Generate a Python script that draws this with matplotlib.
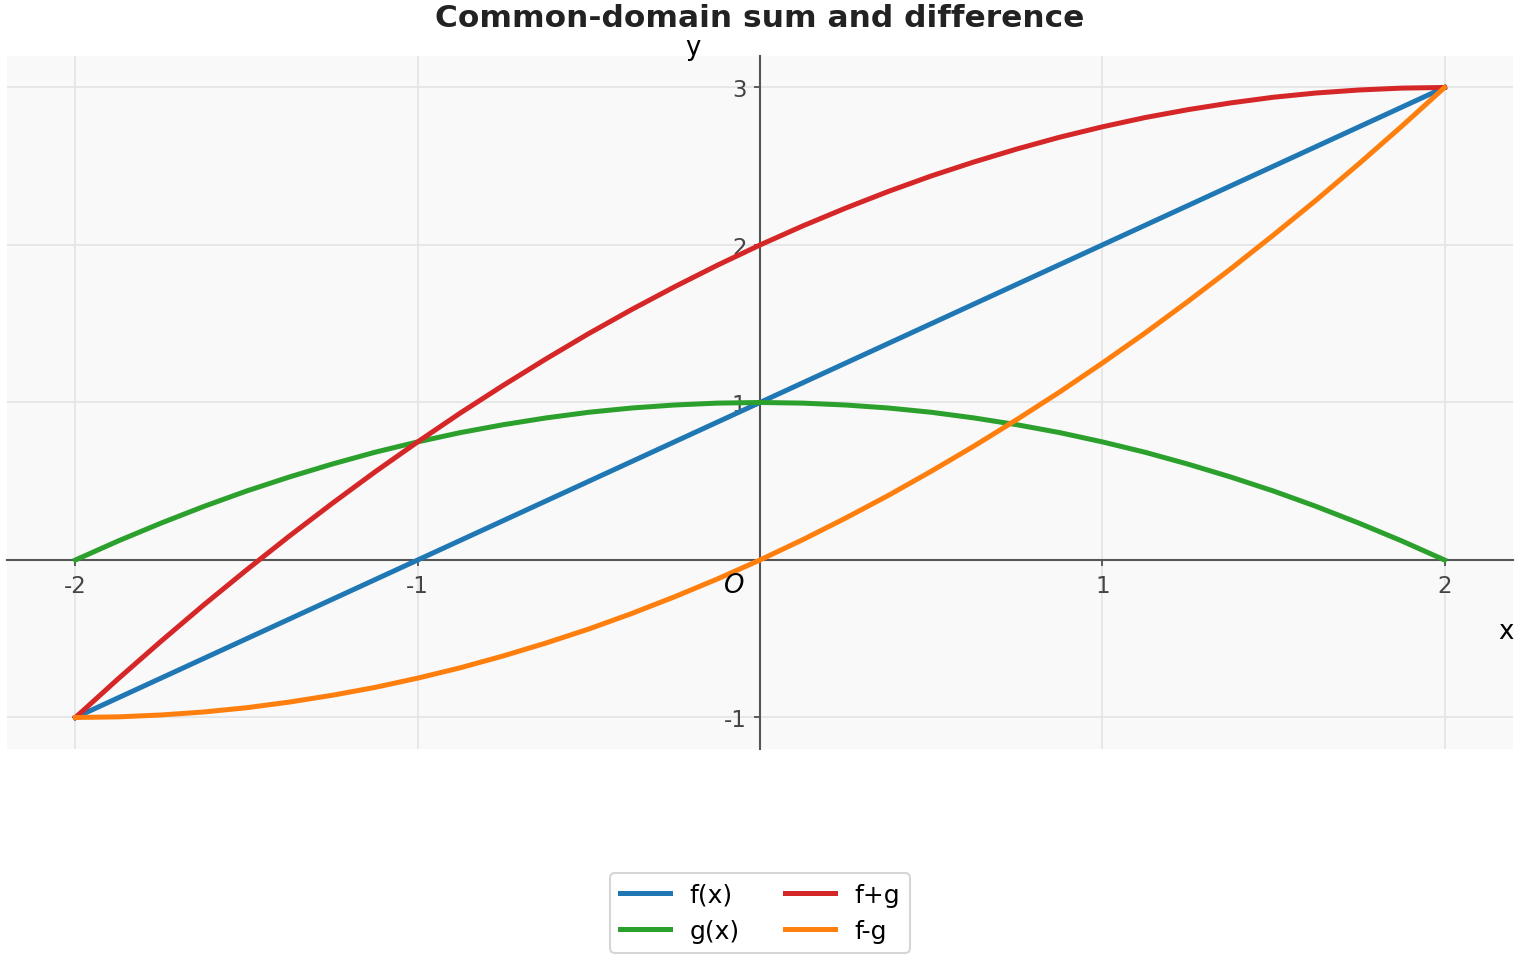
import matplotlib
matplotlib.use("Agg")
import matplotlib.pyplot as plt

plt.rcParams['axes.unicode_minus'] = False

# valores (passo 0.125)
x_vals = [-2, -1.875, -1.75, -1.625, -1.5, -1.375, -1.25, -1.125, -1,
          -0.875, -0.75, -0.625, -0.5, -0.375, -0.25, -0.125, 0,
          0.125, 0.25, 0.375, 0.5, 0.625, 0.75, 0.875, 1,
          1.125, 1.25, 1.375, 1.5, 1.625, 1.75, 1.875, 2]
f_vals = [-1, -0.875, -0.75, -0.625, -0.5, -0.375, -0.25, -0.125, 0,
          0.125, 0.25, 0.375, 0.5, 0.625, 0.75, 0.875, 1,
          1.125, 1.25, 1.375, 1.5, 1.625, 1.75, 1.875, 2,
          2.125, 2.25, 2.375, 2.5, 2.625, 2.75, 2.875, 3]
g_vals = [0, 0.121, 0.234, 0.340, 0.438, 0.527, 0.609, 0.684, 0.75,
          0.809, 0.859, 0.902, 0.938, 0.965, 0.984, 0.996, 1,
          0.996, 0.984, 0.965, 0.938, 0.902, 0.859, 0.809, 0.75,
          0.684, 0.609, 0.527, 0.438, 0.340, 0.234, 0.121, 0]
soma_vals = [-1, -0.754, -0.516, -0.285, -0.063, 0.152, 0.359, 0.559, 0.75,
             0.934, 1.109, 1.277, 1.438, 1.590, 1.734, 1.871, 2,
             2.121, 2.234, 2.340, 2.438, 2.527, 2.609, 2.684, 2.75,
             2.809, 2.859, 2.902, 2.938, 2.965, 2.984, 2.996, 3]
dif_vals = [-1, -0.996, -0.984, -0.965, -0.938, -0.902, -0.859, -0.809, -0.75,
            -0.684, -0.609, -0.527, -0.438, -0.340, -0.234, -0.121, 0,
            0.129, 0.266, 0.410, 0.563, 0.723, 0.891, 1.066, 1.25,
            1.441, 1.641, 1.848, 2.063, 2.285, 2.516, 2.754, 3]

x_ticks = [-2, -1, 1, 2]
y_ticks = [-1, 1, 2, 3]

fig = plt.figure(figsize=(15.2 / 1.5, 9.6 / 1.5), dpi=150)
ax = fig.add_axes([0.0046, 0.21875, 0.9908, 0.7219])
ax.set_facecolor('#f9f9f9')

lw = 2.4
ax.plot(x_vals, f_vals, color='#1f77b4', lw=lw, label='f(x)', zorder=3)
ax.plot(x_vals, g_vals, color='#2ca02c', lw=lw, label='g(x)', zorder=3)
ax.plot(x_vals, soma_vals, color='#d62728', lw=lw, label='f+g', zorder=3)
ax.plot(x_vals, dif_vals, color='#ff7f0e', lw=lw, label='f-g', zorder=3)

ax.set_xlim(-2.2, 2.2)
ax.set_ylim(-1.2, 3.2)

# eixos pela origem
for s in ['top', 'right']:
    ax.spines[s].set_visible(False)
ax.spines['left'].set_position(('data', 0))
ax.spines['bottom'].set_position(('data', 0))
for s in ['left', 'bottom']:
    ax.spines[s].set_color('#555555')
    ax.spines[s].set_linewidth(1.0)

ax.set_xticks(x_ticks)
ax.set_yticks(y_ticks)
ax.tick_params(colors='#444444', labelsize=11, length=3, width=0.8, direction='out')
ax.grid(True, color='#e4e4e8', lw=0.8)
ax.set_axisbelow(True)

ax.text(-0.075, -0.16, 'O', fontsize=12.5, style='italic', ha='center', va='center')
ax.text(2.18, -0.45, 'x', fontsize=12.5, ha='center', va='center')
ax.text(-0.195, 3.26, 'y', fontsize=12.5, ha='center', va='center')

fig.suptitle('Common-domain sum and difference', fontsize=15, fontweight='bold',
             color='#222222', y=0.996)

fig.legend(loc='lower center', ncol=2, fontsize=12, bbox_to_anchor=(0.5, -0.007),
           columnspacing=1.8, frameon=True)

fig.savefig('out.png', dpi=150)
